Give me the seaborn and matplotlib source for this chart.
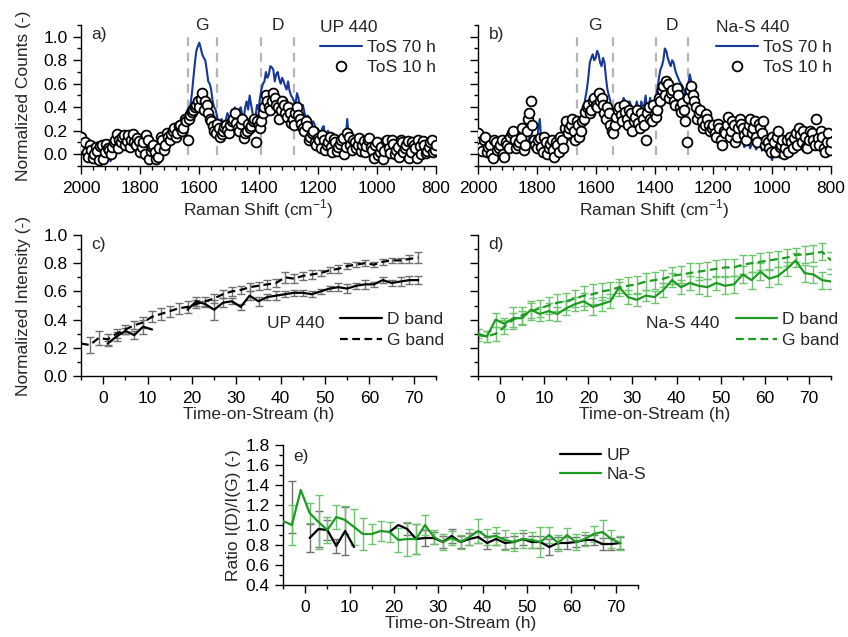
import numpy as np
import pandas as pd
import matplotlib
matplotlib.use("Agg")
import matplotlib.pyplot as plt
import seaborn as sns
from matplotlib.ticker import MultipleLocator
from matplotlib.lines import Line2D

nan = np.nan

# Raman spectra, 2000 -> 800 cm-1 every 10 cm-1
shift = list(range(2000, 799, -10))
up_10h = [0.15, 0.05, 0.02, 0.08, -0.03, 0.06, -0.05, 0.08, 0.02, 0.05,
          0.00, 0.10, 0.17, 0.12, 0.15, 0.08, 0.16, 0.12, 0.10, 0.14,
          0.02, 0.10, 0.16, -0.04, 0.06, 0.02, -0.02, 0.15, 0.04, 0.18,
          0.12, 0.20, 0.15, 0.24, 0.20, 0.30, 0.12, 0.33, 0.38, 0.42,
          0.40, 0.52, 0.45, 0.35, 0.28, 0.20, 0.26, 0.15, 0.20, 0.25,
          0.18, 0.28, 0.35, 0.22, 0.26, 0.14, 0.20, 0.22, 0.28, 0.10,
          0.25, 0.28, 0.40, 0.45, 0.38, 0.52, 0.42, 0.30, 0.45, 0.35,
          0.40, 0.27, 0.25, 0.40, 0.30, 0.22, 0.28, 0.12, 0.18, 0.10,
          0.14, 0.05, 0.12, 0.08, 0.15, 0.02, 0.10, 0.06, 0.12, 0.00,
          0.18, 0.08, 0.12, 0.05, 0.14, 0.08, 0.02, 0.12, 0.06, -0.03,
          0.10, 0.02, -0.04, 0.11, 0.05, 0.12, 0.00, 0.06, 0.12, 0.02,
          0.08, -0.03, 0.10, 0.05, 0.12, 0.00, 0.08, 0.03, 0.10, 0.02,
          0.08]
up_70h = [0.05, 0.08, 0.00, 0.05, 0.02, 0.06, 0.00, 0.04, 0.03, 0.02,
          -0.06, 0.05, 0.08, 0.10, 0.08, 0.12, 0.10, 0.08, 0.12, 0.10,
          0.06, 0.05, 0.04, 0.02, 0.03, 0.00, 0.03, 0.05, 0.05, 0.10,
          0.12, 0.15, 0.15, 0.18, 0.22, 0.30, 0.38, 0.42, 0.65, 0.88,
          0.95, 0.85, 0.80, 0.62, 0.55, 0.40, 0.32, 0.22, 0.28, 0.30,
          0.32, 0.38, 0.40, 0.33, 0.40, 0.30, 0.45, 0.50, 0.35, 0.32,
          0.38, 0.55, 0.62, 0.65, 0.75, 0.72, 0.68, 0.64, 0.65, 0.58,
          0.62, 0.50, 0.45, 0.52, 0.40, 0.42, 0.30, 0.32, 0.25, 0.25,
          0.22, 0.18, 0.24, 0.18, 0.15, 0.10, 0.12, 0.10, 0.08, 0.12,
          0.30, 0.12, 0.08, 0.10, 0.05, 0.08, 0.06, 0.04, 0.02, 0.00,
          -0.02, -0.05, 0.02, 0.00, 0.03, 0.00, 0.04, 0.06, 0.02, 0.05,
          0.02, 0.00, 0.03, 0.00, 0.02, -0.02, 0.03, 0.00, 0.02, -0.01,
          0.02]
nas_10h = [0.18, 0.06, 0.12, 0.02, 0.08, -0.03, 0.10, 0.05, 0.12, -0.02,
           0.08, 0.15, 0.20, 0.05, 0.10, 0.22, 0.08, 0.30, 0.45, 0.12,
           0.05, 0.14, 0.02, 0.10, 0.05, 0.12, -0.02, 0.08, 0.15, 0.05,
           0.28, 0.22, 0.30, 0.12, 0.25, 0.20, 0.30, 0.40, 0.35, 0.45,
           0.42, 0.52, 0.48, 0.35, 0.40, 0.25, 0.18, 0.32, 0.40, 0.28,
           0.36, 0.25, 0.35, 0.28, 0.38, 0.22, 0.30, 0.12, 0.40, 0.28,
           0.34, 0.38, 0.45, 0.58, 0.62, 0.48, 0.55, 0.42, 0.50, 0.36,
           0.38, 0.10, 0.55, 0.50, 0.40, 0.35, 0.28, 0.25, 0.30, 0.20,
           0.25, 0.15, 0.22, 0.08, 0.18, 0.32, 0.20, 0.25, 0.15, 0.30,
           0.22, 0.12, 0.25, 0.18, 0.28, 0.10, 0.22, 0.28, 0.12, 0.05,
           0.15, 0.02, 0.20, 0.08, 0.00, 0.12, 0.15, 0.05, 0.18, 0.22,
           0.10, 0.15, 0.05, 0.20, 0.12, 0.30, 0.08, 0.15, 0.02, 0.18,
           0.10]
nas_70h = [0.10, 0.08, 0.02, 0.06, 0.00, 0.08, 0.05, 0.02, 0.06, 0.00,
           0.05, 0.08, 0.10, 0.12, 0.06, 0.10, 0.15, 0.12, 0.10, 0.05,
           0.08, 0.30, 0.06, 0.10, 0.05, 0.08, 0.02, 0.05, 0.06, 0.10,
           0.12, 0.12, 0.18, 0.15, 0.20, 0.30, 0.40, 0.55, 0.78, 0.85,
           0.82, 0.85, 0.75, 0.78, 0.55, 0.45, 0.30, 0.35, 0.38, 0.40,
           0.45, 0.35, 0.42, 0.30, 0.45, 0.35, 0.40, 0.50, 0.38, 0.40,
           0.45, 0.55, 0.72, 0.80, 0.88, 0.78, 0.80, 0.72, 0.65, 0.60,
           0.55, 0.48, 0.68, 0.55, 0.45, 0.40, 0.35, 0.32, 0.30, 0.28,
           0.22, 0.20, 0.22, 0.15, 0.18, 0.15, 0.12, 0.14, 0.12, 0.10,
           0.12, 0.08, 0.10, 0.08, 0.10, 0.06, 0.08, 0.05, 0.04, 0.00,
           -0.05, 0.02, 0.05, 0.00, 0.03, -0.02, 0.05, 0.00, 0.08, 0.18,
           0.05, 0.10, 0.06, 0.12, 0.08, 0.10, 0.05, 0.08, -0.02, 0.05,
           0.02]

# the in-between points, 1995 -> 805 cm-1
shift_mid = list(range(1995, 804, -10))
up_10h_mid = [0.08, 0.10, -0.02, 0.04, 0.00, 0.03, 0.07, -0.04, 0.09, 0.04,
              0.06, 0.12, 0.05, 0.10, 0.16, 0.11, 0.06, 0.17, 0.08, 0.11,
              0.06, 0.00, 0.12, 0.03, 0.08, -0.04, 0.05, 0.12, 0.08, 0.15,
              0.17, 0.22, 0.18, 0.25, 0.22, 0.28, 0.30, 0.36, 0.40, 0.45,
              0.47, 0.38, 0.42, 0.30, 0.24, 0.18, 0.22, 0.17, 0.23, 0.21,
              0.25, 0.30, 0.27, 0.20, 0.30, 0.18, 0.26, 0.24, 0.30, 0.28,
              0.22, 0.35, 0.50, 0.40, 0.45, 0.48, 0.40, 0.38, 0.42, 0.32,
              0.35, 0.30, 0.35, 0.33, 0.26, 0.20, 0.24, 0.15, 0.20, 0.08,
              0.12, 0.16, 0.04, 0.10, 0.06, 0.13, 0.03, 0.09, 0.14, 0.06,
              0.15, 0.04, 0.10, 0.08, 0.03, 0.11, 0.07, 0.14, 0.04, 0.08,
              -0.01, 0.06, 0.03, 0.12, 0.01, 0.09, 0.04, -0.02, 0.10, 0.05,
              0.11, 0.02, 0.08, -0.03, 0.07, 0.11, 0.01, 0.06, 0.12, 0.04]
up_70h_mid = [0.02, 0.04, 0.06, 0.00, 0.05, 0.03, 0.06, 0.00, 0.05, -0.02,
              0.00, 0.10, 0.06, 0.12, 0.09, 0.14, 0.06, 0.11, 0.08, 0.12,
              0.04, 0.07, 0.00, 0.05, 0.02, 0.04, 0.00, 0.06, 0.08, 0.09,
              0.14, 0.12, 0.17, 0.20, 0.25, 0.35, 0.40, 0.52, 0.78, 0.92,
              0.90, 0.82, 0.72, 0.60, 0.45, 0.38, 0.25, 0.30, 0.26, 0.35,
              0.30, 0.36, 0.30, 0.38, 0.34, 0.40, 0.38, 0.42, 0.30, 0.42,
              0.48, 0.60, 0.70, 0.68, 0.74, 0.62, 0.70, 0.60, 0.62, 0.55,
              0.54, 0.48, 0.42, 0.48, 0.38, 0.36, 0.33, 0.28, 0.28, 0.20,
              0.20, 0.22, 0.16, 0.20, 0.12, 0.14, 0.08, 0.12, 0.10, 0.15,
              0.14, 0.10, 0.06, 0.08, 0.07, 0.05, 0.06, 0.03, 0.04, 0.00,
              -0.03, 0.00, -0.02, 0.04, 0.01, 0.05, 0.02, 0.04, 0.03, 0.00,
              0.04, 0.01, 0.05, 0.02, 0.00, 0.04, 0.01, 0.03, 0.00, 0.02]
nas_10h_mid = [0.10, 0.03, 0.15, 0.06, 0.00, 0.12, 0.04, 0.08, 0.00, 0.10,
               0.05, 0.18, 0.12, 0.08, 0.14, 0.04, 0.20, 0.35, 0.25, 0.08,
               0.12, 0.06, 0.15, 0.00, 0.09, 0.04, 0.10, 0.02, 0.12, 0.22,
               0.18, 0.25, 0.20, 0.28, 0.15, 0.28, 0.36, 0.42, 0.38, 0.48,
               0.40, 0.45, 0.42, 0.30, 0.35, 0.20, 0.25, 0.38, 0.33, 0.42,
               0.30, 0.38, 0.20, 0.32, 0.27, 0.35, 0.25, 0.35, 0.30, 0.42,
               0.32, 0.48, 0.55, 0.50, 0.60, 0.52, 0.45, 0.56, 0.40, 0.44,
               0.28, 0.48, 0.58, 0.45, 0.30, 0.38, 0.22, 0.34, 0.25, 0.22,
               0.18, 0.26, 0.12, 0.20, 0.25, 0.15, 0.28, 0.10, 0.22, 0.26,
               0.16, 0.20, 0.30, 0.22, 0.15, 0.26, 0.18, 0.08, 0.10, 0.02,
               0.10, 0.15, 0.06, 0.12, 0.05, 0.02, 0.10, 0.14, 0.08, 0.16,
               0.20, 0.06, 0.12, 0.18, 0.08, 0.14, 0.20, 0.05, 0.10, 0.04]
nas_70h_mid = [0.05, 0.04, 0.08, 0.02, 0.05, 0.06, 0.03, 0.04, 0.02, 0.03,
               0.06, 0.10, 0.08, 0.10, 0.12, 0.20, 0.08, 0.14, 0.06, 0.10,
               0.22, 0.12, 0.05, 0.08, 0.06, 0.03, 0.06, 0.04, 0.08, 0.10,
               0.14, 0.15, 0.16, 0.18, 0.25, 0.35, 0.48, 0.65, 0.82, 0.80,
               0.88, 0.78, 0.82, 0.65, 0.50, 0.35, 0.28, 0.42, 0.32, 0.48,
               0.38, 0.45, 0.33, 0.40, 0.38, 0.45, 0.42, 0.35, 0.48, 0.36,
               0.50, 0.65, 0.75, 0.90, 0.82, 0.75, 0.78, 0.68, 0.62, 0.58,
               0.50, 0.60, 0.62, 0.48, 0.42, 0.38, 0.30, 0.35, 0.25, 0.30,
               0.18, 0.25, 0.16, 0.20, 0.12, 0.16, 0.10, 0.15, 0.08, 0.12,
               0.06, 0.12, 0.05, 0.10, 0.04, 0.07, 0.03, 0.06, 0.02, -0.02,
               0.00, 0.04, -0.03, 0.06, 0.00, 0.04, 0.02, 0.05, 0.10, 0.12,
               0.04, 0.08, 0.12, 0.05, 0.10, 0.06, 0.02, 0.04, 0.00, 0.03]

up_bands = [1640, 1540, 1390, 1280]
nas_bands = [1665, 1540, 1395, 1285]

# band intensities vs time-on-stream, every 2 h from -5 to 75 h
tos = list(range(-5, 76, 2))
up_g = [0.23, 0.22, 0.27, 0.26, 0.30, 0.33, 0.36, 0.38, 0.42, 0.44,
        0.46, 0.48, 0.49, 0.51, 0.53, 0.55, 0.58, 0.60, 0.61, 0.63,
        0.64, 0.65, 0.66, 0.70, 0.69, 0.71, 0.72, 0.73, 0.75, 0.76,
        0.78, 0.79, 0.80, 0.79, 0.81, 0.82, 0.82, 0.83, 0.84, nan, nan]
up_g_err = [nan, 0.06, 0.05, 0.04, 0.03, 0.03, 0.03, 0.04, 0.04, 0.04,
            0.04, 0.04, 0.04, 0.03, 0.03, 0.03, 0.03, 0.03, 0.03, 0.03,
            0.03, 0.03, 0.03, 0.04, 0.03, 0.03, 0.03, 0.02, 0.02, 0.03,
            0.02, 0.02, 0.02, 0.02, 0.02, 0.02, 0.02, 0.03, 0.04, nan, nan]
up_d = [nan, nan, nan, 0.23, 0.28, 0.32, 0.29, 0.35, 0.33, nan,
        nan, nan, 0.47, 0.53, 0.51, 0.47, 0.52, 0.53, 0.49, 0.57,
        0.53, 0.56, 0.57, 0.58, 0.59, 0.59, 0.58, 0.60, 0.62, 0.63,
        0.62, 0.64, 0.65, 0.65, 0.68, 0.66, 0.67, 0.68, 0.68, nan, nan]
up_d_err = [nan, nan, nan, 0.02, 0.03, 0.02, 0.03, 0.05, nan, nan,
            nan, nan, nan, 0.03, 0.02, 0.07, 0.03, 0.02, 0.02, 0.03,
            0.03, 0.02, 0.03, 0.02, 0.02, 0.02, 0.02, 0.02, 0.02, 0.03,
            0.03, 0.02, 0.03, 0.02, 0.02, 0.02, 0.03, 0.03, 0.03, nan, nan]
nas_d = [0.30, 0.28, 0.40, 0.37, 0.41, 0.41, 0.47, 0.44, 0.46, 0.44,
         0.48, 0.51, 0.53, 0.49, 0.51, 0.53, 0.63, 0.56, 0.54, 0.57,
         0.56, 0.61, 0.68, 0.63, 0.66, 0.64, 0.63, 0.66, 0.64, 0.65,
         0.72, 0.68, 0.74, 0.69, 0.71, 0.76, 0.82, 0.73, 0.72, 0.68, 0.67]
nas_d_err = [0.03, 0.04, 0.05, 0.04, 0.08, 0.05, 0.06, 0.05, 0.06, 0.05,
             0.05, 0.05, 0.06, 0.06, 0.05, 0.05, 0.04, 0.05, 0.04, 0.04,
             0.04, 0.05, 0.05, 0.05, 0.05, 0.06, 0.06, 0.05, 0.06, 0.06,
             0.06, 0.06, 0.06, 0.06, 0.06, 0.05, 0.05, 0.06, 0.06, 0.06, 0.05]
nas_g = [0.29, 0.28, 0.30, 0.35, 0.40, 0.43, 0.46, 0.48, 0.50, 0.52,
         0.53, 0.55, 0.57, 0.58, 0.60, 0.61, 0.63, 0.64, 0.65, 0.67,
         0.68, 0.69, 0.71, 0.72, 0.73, 0.74, 0.75, 0.76, 0.77, 0.77,
         0.79, 0.80, 0.81, 0.82, 0.83, 0.84, 0.86, 0.86, 0.87, 0.88, 0.82]
nas_g_err = [0.04, 0.04, 0.05, 0.05, 0.05, 0.06, 0.06, 0.06, 0.06, 0.06,
             0.06, 0.06, 0.07, 0.07, 0.06, 0.06, 0.06, 0.06, 0.06, 0.06,
             0.06, 0.06, 0.06, 0.06, 0.07, 0.06, 0.06, 0.06, 0.06, 0.06,
             0.07, 0.06, 0.06, 0.06, 0.06, 0.06, 0.05, 0.06, 0.06, 0.06, 0.06]

# I(D)/I(G) ratio
up_ratio = [nan, 1.18, nan, 0.87, 0.96, 0.95, 0.79, 0.94, 0.78, nan,
            nan, nan, 0.93, 1.00, 0.96, 0.86, 0.87, 0.87, 0.83, 0.89,
            0.83, 0.86, 0.88, 0.82, 0.86, 0.82, 0.83, 0.86, 0.83, 0.83,
            0.78, 0.82, 0.82, 0.83, 0.85, 0.85, 0.81, 0.81, 0.82, nan, nan]
up_ratio_err = [nan, 0.26, nan, 0.14, 0.18, 0.10, 0.07, 0.24, nan, nan,
                nan, nan, nan, nan, 0.06, 0.15, 0.08, 0.06, 0.06, 0.07,
                0.06, 0.06, 0.06, 0.06, 0.06, 0.06, 0.06, 0.06, 0.06, 0.06,
                0.08, 0.06, 0.06, 0.05, 0.05, 0.05, 0.06, 0.06, 0.06, nan, nan]
nas_ratio = [1.04, 1.00, 1.35, 1.12, 1.03, 0.95, 1.08, 1.05, 0.98, 0.91,
             0.91, 0.94, 0.93, 0.85, 0.86, 0.86, 1.00, 0.88, 0.83, 0.87,
             0.83, 0.88, 0.94, 0.88, 0.89, 0.85, 0.83, 0.86, 0.85, 0.83,
             0.90, 0.82, 0.90, 0.83, 0.86, 0.91, 0.93, 0.86, 0.82, nan, nan]
nas_ratio_err = [nan, 0.20, nan, 0.10, 0.27, 0.13, 0.12, 0.14, 0.18, 0.16,
                 0.10, 0.10, 0.10, 0.12, 0.17, 0.15, 0.10, 0.07, 0.08, 0.07,
                 0.07, 0.08, 0.12, 0.08, 0.09, 0.10, 0.09, 0.09, 0.08, 0.15,
                 0.08, 0.08, 0.07, 0.08, 0.07, 0.08, 0.12, 0.09, 0.07, nan, nan]

BLUE = "#17389a"
GREEN = "#1e9a23"
GREEN_ERR = "#6cc46c"
GREY_ERR = "#707070"
BAND_GREY = "#b4b4b4"

sns.set_theme(style="ticks")
plt.rcParams['font.family'] = ['Liberation Sans', 'DejaVu Sans']
plt.rcParams.update({
    'font.size': 12.5,
    'axes.labelsize': 12.5,
    'xtick.labelsize': 12.5,
    'ytick.labelsize': 12.5,
    'legend.fontsize': 12.5,
    'axes.edgecolor': 'black',
    'axes.linewidth': 1.0,
    'xtick.color': 'black',
    'ytick.color': 'black',
    'xtick.major.pad': 4.5,
    'mathtext.fontset': 'custom',
    'mathtext.rm': 'Liberation Sans',
})

spec = pd.concat([
    pd.DataFrame({'shift': shift, 'up_10h': up_10h, 'up_70h': up_70h,
                  'nas_10h': nas_10h, 'nas_70h': nas_70h}),
    pd.DataFrame({'shift': shift_mid, 'up_10h': up_10h_mid,
                  'up_70h': up_70h_mid, 'nas_10h': nas_10h_mid,
                  'nas_70h': nas_70h_mid}),
]).sort_values('shift', ascending=False).reset_index(drop=True)

fig = plt.figure(figsize=(8.48, 6.37), dpi=100)
W, H = 848, 637


def box(l, r, t, b):
    return [l / W, 1 - b / H, (r - l) / W, (b - t) / H]


def style(ax):
    sns.despine(ax=ax)
    ax.tick_params(which='major', direction='out', length=6, width=1)
    ax.tick_params(which='minor', direction='out', length=3, width=1)


def spectrum(ax, line_col, dot_col, bands, letter, title, show_ylab):
    sns.lineplot(data=spec, x='shift', y=line_col, ax=ax, color=BLUE,
                 lw=1.5, sort=False, estimator=None, zorder=2)
    sns.scatterplot(data=spec, x='shift', y=dot_col, ax=ax, s=50,
                    facecolor='white', edgecolor='black', linewidth=1.3,
                    zorder=3)
    ax.vlines(bands, -0.01, 1.02, colors=BAND_GREY, linestyles=(0, (4, 3)),
              lw=1.6, zorder=1)
    ax.text((bands[0] + bands[1]) / 2, 1.1, 'G', ha='center', va='center')
    ax.text((bands[2] + bands[3]) / 2, 1.1, 'D', ha='center', va='center')
    ax.set_xlim(2000, 800)
    ax.set_ylim(-0.1, 1.1)
    ax.xaxis.set_major_locator(MultipleLocator(200))
    ax.xaxis.set_minor_locator(MultipleLocator(40))
    ax.yaxis.set_minor_locator(MultipleLocator(0.1))
    ax.set_yticks([0, 0.2, 0.4, 0.6, 0.8, 1.0])
    ax.set_xlabel(r'Raman Shift (cm$^{\mathregular{-1}}$)', labelpad=1)
    if show_ylab:
        ax.set_ylabel('Normalized Counts (-)', labelpad=9)
    else:
        ax.set_ylabel('')
        ax.tick_params(axis='y', labelleft=False)
    ax.text(0.03, 0.93, letter, transform=ax.transAxes, va='center')
    handles = [Line2D([], [], color=BLUE, lw=1.5),
               Line2D([], [], ls='none', marker='o', ms=7, mfc='white',
                      mec='black', mew=1.3)]
    ax.legend(handles, ['ToS 70 h', 'ToS 10 h'], title=title,
              loc='upper left', bbox_to_anchor=(0.65, 1.1),
              frameon=False, handlelength=2.4, handletextpad=0.3,
              labelspacing=0.3, borderpad=0, alignment='left',
              title_fontsize=12.5)
    style(ax)


def intensity(ax, d, d_err, g, g_err, col, ecol, letter, title, show_ylab):
    ax.errorbar(tos, g, yerr=g_err, fmt='none', ecolor=ecol, elinewidth=1,
                capsize=3, capthick=1, zorder=1)
    ax.errorbar(tos, d, yerr=d_err, fmt='none', ecolor=ecol, elinewidth=1,
                capsize=3, capthick=1, zorder=1)
    ax.plot(tos, d, color=col, lw=1.6, zorder=3)
    ax.plot(tos, g, color=col, lw=1.6, ls=(0, (3.5, 2)), zorder=3)
    ax.set_xlim(-5, 75)
    ax.set_ylim(0, 1.0)
    ax.xaxis.set_major_locator(MultipleLocator(10))
    ax.xaxis.set_minor_locator(MultipleLocator(5))
    ax.yaxis.set_major_locator(MultipleLocator(0.2))
    ax.yaxis.set_minor_locator(MultipleLocator(0.1))
    ax.set_xlabel('Time-on-Stream (h)', labelpad=1)
    if show_ylab:
        ax.set_ylabel('Normalized Intensity (-)', labelpad=9)
    else:
        ax.tick_params(axis='y', labelleft=False)
    ax.text(0.03, 0.93, letter, transform=ax.transAxes, va='center')
    handles = [Line2D([], [], color=col, lw=1.6),
               Line2D([], [], color=col, lw=1.6, ls=(0, (3.5, 2)))]
    ax.legend(handles, ['D band', 'G band'], loc='lower left',
              bbox_to_anchor=(0.705, 0.14), frameon=False, handlelength=2.4,
              handletextpad=0.3, labelspacing=0.3, borderpad=0)
    ax.text(0.685, 0.375, title, transform=ax.transAxes, ha='right',
            va='center')
    style(ax)


ax_a = fig.add_axes(box(81, 436, 25, 166))
spectrum(ax_a, 'up_70h', 'up_10h', up_bands, 'a)', 'UP 440', True)
ax_b = fig.add_axes(box(478, 831, 25, 166))
spectrum(ax_b, 'nas_70h', 'nas_10h', nas_bands, 'b)', 'Na-S 440', False)

ax_c = fig.add_axes(box(81, 436, 235, 376))
intensity(ax_c, up_d, up_d_err, up_g, up_g_err, 'black', GREY_ERR, 'c)',
          'UP 440', True)
ax_d = fig.add_axes(box(478, 831, 235, 376))
intensity(ax_d, nas_d, nas_d_err, nas_g, nas_g_err, GREEN, GREEN_ERR, 'd)',
          'Na-S 440', False)

ax_e = fig.add_axes(box(283, 638, 445, 585))
ax_e.errorbar(tos, up_ratio, yerr=up_ratio_err, fmt='none', ecolor=GREY_ERR,
              elinewidth=1, capsize=3, capthick=1, zorder=1)
ax_e.errorbar(tos, nas_ratio, yerr=nas_ratio_err, fmt='none', ecolor=GREEN_ERR,
              elinewidth=1, capsize=3, capthick=1, zorder=1)
ax_e.plot(tos, up_ratio, color='black', lw=1.6, zorder=3, label='UP')
ax_e.plot(tos, nas_ratio, color=GREEN, lw=1.6, zorder=4, label='Na-S')
ax_e.set_xlim(-5, 75)
ax_e.set_ylim(0.4, 1.8)
ax_e.xaxis.set_major_locator(MultipleLocator(10))
ax_e.xaxis.set_minor_locator(MultipleLocator(5))
ax_e.yaxis.set_major_locator(MultipleLocator(0.2))
ax_e.yaxis.set_minor_locator(MultipleLocator(0.1))
ax_e.set_xlabel('Time-on-Stream (h)', labelpad=1)
ax_e.set_ylabel('Ratio I(D)/I(G) (-)', labelpad=3)
ax_e.text(0.03, 0.92, 'e)', transform=ax_e.transAxes, va='center')
ax_e.legend(loc='upper left', bbox_to_anchor=(0.755, 1.04), frameon=False,
            handlelength=2.4, handletextpad=0.3, labelspacing=0.2, borderpad=0)
style(ax_e)

fig.savefig('out.png', dpi=100)
